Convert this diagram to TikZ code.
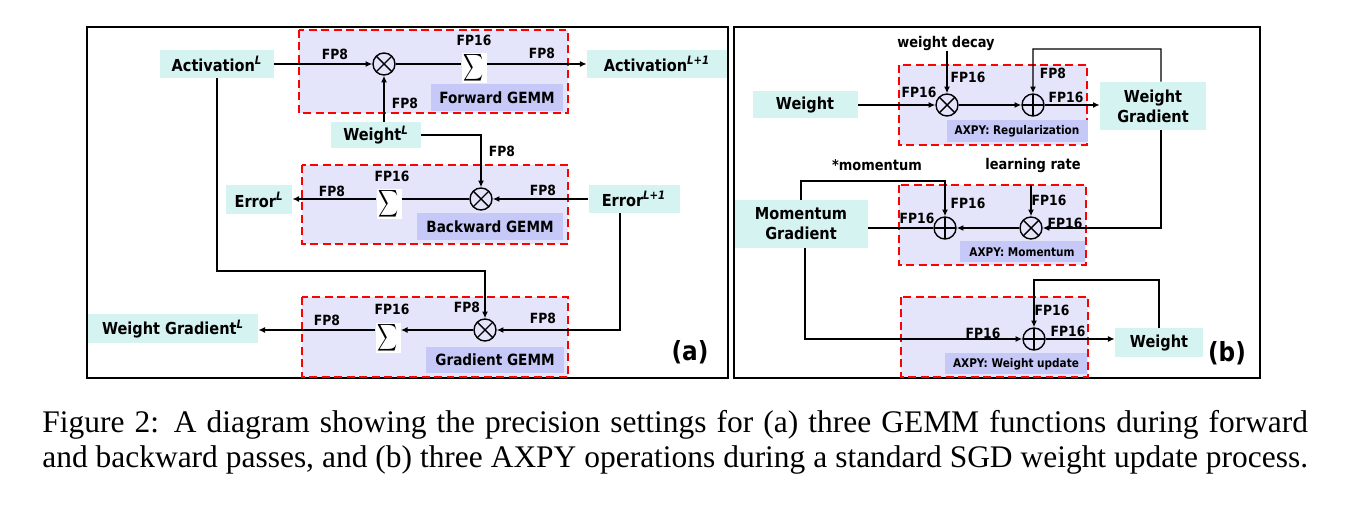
\documentclass[tikz,border=0pt]{standalone}
\usepackage{fontspec}
\usepackage{graphicx}
\usetikzlibrary{arrows.meta}
\newfontfamily\diafont{DejaVu Sans}[FakeStretch=0.88]
\newfontfamily\capfont{Liberation Serif}
\definecolor{cyanbg}{RGB}{212,243,241}
\definecolor{boxbg}{RGB}{228,229,250}
\definecolor{labbg}{RGB}{198,201,247}
\newcommand{\supL}[1]{\textsuperscript{\itshape #1}}
\newcommand{\bigsum}{\scalebox{0.79}[1.08]{$\displaystyle\sum$}}

\begin{document}
\begin{tikzpicture}[x=0.02cm, y=-0.02cm,
  >={Latex[length=3.8pt,width=3.4pt]},
  conn/.style={line width=0.8pt},
  datanode/.style={fill=cyanbg, inner sep=0pt, align=center, font=\diafont\bfseries\fontsize{9.4}{11.4}\selectfont},
  gemmbox/.style={draw=red, fill=boxbg, line width=1.1pt, dash pattern=on 4.5pt off 2.6pt},
  gemmlab/.style={fill=labbg, inner sep=0pt, font=\diafont\bfseries\fontsize{8.8}{10}\selectfont},
  axpylab/.style={fill=labbg, inner sep=0pt, font=\diafont\bfseries\fontsize{6.8}{8}\selectfont},
  fp/.style={inner sep=0pt, font=\diafont\bfseries\fontsize{8}{9}\selectfont},
  ctrltext/.style={inner sep=0pt, font=\diafont\bfseries\fontsize{8.4}{10}\selectfont},
  panellab/.style={inner sep=0pt, font=\diafont\bfseries\fontsize{15}{17}\selectfont},
  captext/.style={inner sep=0pt, anchor=base west, font=\capfont\fontsize{17.9}{20}\selectfont},
  opnode/.style={circle, draw, line width=0.8pt, minimum size=0.44cm, inner sep=0pt},
  opmul/.style={opnode, path picture={\draw[line width=0.8pt]
    (path picture bounding box.north west) -- (path picture bounding box.south east)
    (path picture bounding box.north east) -- (path picture bounding box.south west);}},
  opadd/.style={opnode, path picture={\draw[line width=0.8pt]
    (path picture bounding box.north) -- (path picture bounding box.south)
    (path picture bounding box.west) -- (path picture bounding box.east);}},
  sumop/.style={fill=white, inner sep=0pt, minimum width=0.5cm, minimum height=0.6cm}]
\useasboundingbox (0,0) rectangle (1348,519);

% frames
\draw[line width=1pt] (87,27) rectangle (728,378);
\draw[line width=1pt] (734,27) rectangle (1260,378);

% (a) GEMM blocks
\draw[gemmbox] (299,30) rectangle (568,113);
\draw[gemmbox] (302,165) rectangle (568,244);
\draw[gemmbox] (302,297) rectangle (568,377);
\node[gemmlab, minimum width=2.66cm, minimum height=0.54cm] (fwdlab) at (497,98) {Forward GEMM};
\node[gemmlab, minimum width=2.94cm, minimum height=0.54cm] (bwdlab) at (490,227) {Backward GEMM};
\node[gemmlab, minimum width=2.76cm, minimum height=0.52cm] (grdlab) at (495,360) {Gradient GEMM};

\node[datanode, minimum width=2.28cm, minimum height=0.56cm] (act) at (217,64) {Activation\supL{L}};
\node[datanode, minimum width=2.8cm, minimum height=0.56cm] (act1) at (657,64) {Activation\supL{L+1}};
\node[datanode, minimum width=1.8cm, minimum height=0.52cm] (wgt) at (376,135) {Weight\supL{L}};
\node[datanode, minimum width=1.32cm, minimum height=0.58cm] (errL) at (259,200) {Error\supL{L}};
\node[datanode, minimum width=1.82cm, minimum height=0.56cm] (err1) at (634,199) {Error\supL{L+1}};
\node[datanode, minimum width=3.4cm, minimum height=0.58cm] (wgL) at (173,329) {Weight Gradient\supL{L}};

\node[opmul] (fmul) at (384,64) {};
\node[sumop] (fsum) at (474,68) {\bigsum};
\node[opmul] (bmul) at (481,199) {};
\node[sumop] (bsum) at (389,204) {\bigsum};
\node[opmul] (gmul) at (485,330) {};
\node[sumop] (gsum) at (388,338) {\bigsum};
\coordinate (gturn) at (485,271);

\draw[conn,->] (act) -- (fmul);
\draw[conn,->] (wgt.north -| fmul) -- (fmul.south);
\draw[conn] (fmul) -- (fmul -| fsum.west);
\draw[conn,->] (fmul -| fsum.east) -- (act1.west |- fmul);
\draw[conn,->] (wgt.east) -| (bmul.north);
\draw[conn,->] (err1) -- (bmul);
\draw[conn] (bmul) -- (bmul -| bsum.east);
\draw[conn,->] (bmul -| bsum.west) -- (errL.east |- bmul);
\draw[conn,->] (act.south) |- (gturn) -- (gmul.north);
\draw[conn,->] ([xshift=-0.28cm]err1.south) |- (gmul.east);
\draw[conn,->] (gmul) -- (gmul -| gsum.east);
\draw[conn,->] (gmul -| gsum.west) -- (wgL.east |- gmul);

\node[fp] (fpa1) at (335,54) {FP8};
\node[fp] (fpa2) at (405,103) {FP8};
\node[fp] (fpa3) at (474,40) {FP16};
\node[fp] (fpa4) at (542,53) {FP8};
\node[fp] (fpa5) at (502,151) {FP8};
\node[fp] (fpa6) at (392,176) {FP16};
\node[fp] (fpa7) at (332,191) {FP8};
\node[fp] (fpa8) at (543,190) {FP8};
\node[fp] (fpa9) at (392,309) {FP16};
\node[fp] (fpa10) at (327,320) {FP8};
\node[fp] (fpa11) at (467,307) {FP8};
\node[fp] (fpa12) at (543,318) {FP8};
\node[panellab] (laba) at (690,352) {(a)};

% (b) AXPY blocks
\draw[gemmbox] (899,65) rectangle (1087,145);
\draw[gemmbox] (899,185) rectangle (1086,265);
\draw[gemmbox] (901,297) rectangle (1088,377);
\node[axpylab, minimum width=2.82cm, minimum height=0.44cm] (reglab) at (1017,131) {AXPY: Regularization};
\node[axpylab, minimum width=2.5cm, minimum height=0.42cm] (momlab) at (1022,252) {AXPY: Momentum};
\node[axpylab, minimum width=2.84cm, minimum height=0.42cm] (updlab) at (1016,364) {AXPY: Weight update};

\node[datanode, minimum width=2.1cm, minimum height=0.54cm] (wnode) at (805,105) {Weight};
\node[datanode, minimum width=2.12cm, minimum height=0.96cm] (wgrad) at (1153,106) {Weight\\Gradient};
\node[datanode, minimum width=2.66cm, minimum height=0.96cm] (mgrad) at (801,224) {Momentum\\Gradient};
\node[datanode, minimum width=1.76cm, minimum height=0.58cm] (wout) at (1159,343) {Weight};
\node[ctrltext] (wdecay) at (946,43) {weight decay};
\node[ctrltext] (mom) at (877,165) {*momentum};
\node[ctrltext] (lrate) at (1033,165) {learning rate};

\node[opmul] (rmul) at (947,105) {};
\node[opadd] (radd) at (1033,105) {};
\node[opadd] (madd) at (945,228) {};
\node[opmul] (mmul) at (1031,228) {};
\node[opadd] (uadd) at (1034,339) {};
\coordinate (rloop) at (1161,49);
\coordinate (mloop) at (945,181);
\coordinate (uloop) at (1034,280);

\draw[conn,->] (wnode) -- (rmul);
\draw[conn,->] (wdecay.south -| rmul) -- (rmul.north);
\draw[conn,->] (rmul) -- (radd);
\draw[conn,->] (radd) -- (wgrad.west |- radd);
\draw[conn,->] ([xshift=0.16cm]wgrad.north) -- (rloop) -| (radd.north);
\draw[conn,->] ([xshift=0.16cm]wgrad.south) |- (mmul.east);
\draw[conn,->] ([yshift=-0.24cm]lrate.south -| mmul) -- (mmul.north);
\draw[conn,->] (mmul) -- (madd);
\draw[conn] (madd.west) -- (madd.west -| mgrad.east);
\draw[conn,->] (mgrad.north) |- (mloop) -- (madd.north);
\draw[conn,->] ([xshift=0.08cm]mgrad.south) |- (uadd.west);
\draw[conn,->] (wout.north) |- (uloop) -- (uadd.north);
\draw[conn,->] (uadd) -- (wout.west |- uadd);

\node[fp] (fpb1) at (968,77) {FP16};
\node[fp] (fpb2) at (919,92) {FP16};
\node[fp] (fpb3) at (1053,73) {FP8};
\node[fp] (fpb4) at (1066,97) {FP16};
\node[fp] (fpb5) at (968,203) {FP16};
\node[fp] (fpb6) at (917,218) {FP16};
\node[fp] (fpb7) at (1049,200) {FP16};
\node[fp] (fpb8) at (1065,223) {FP16};
\node[fp] (fpb9) at (983,333) {FP16};
\node[fp] (fpb10) at (1052,310) {FP16};
\node[fp] (fpb11) at (1068,331) {FP16};
\node[panellab] (labb) at (1227,353) {(b)};

% caption
\node[captext] (cap1) at (42,433) {\makebox[25.32cm][s]{Figure 2: A diagram showing the precision settings for (a) three GEMM functions during forward}};
\node[captext] (cap2) at (42,468) {\makebox[25.32cm][s]{and backward passes, and (b) three AXPY operations during a standard SGD weight update process.}};
\end{tikzpicture}
\end{document}
